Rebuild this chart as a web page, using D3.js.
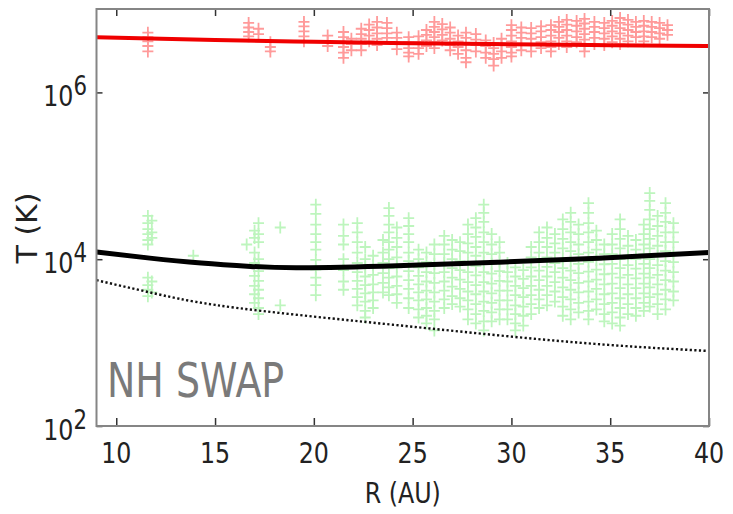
<!DOCTYPE html>
<html>
<head>
<meta charset="utf-8">
<script src="https://cdn.jsdelivr.net/npm/d3@7"></script>
<style>
  html, body { margin: 0; padding: 0; background: #fff; }
  svg { display: block; font-family: "DejaVu Sans", sans-serif; }
</style>
</head>
<body>
<div id="chart"></div>
<script>
// axis ticks
const xTicks = [10, 15, 20, 25, 30, 35, 40];
const yTicks = [1e2, 1e4, 1e6];
const yTickExp = ["2", "4", "6"];

// model curves (R in AU, T in K)
const hotR = [9, 15, 20, 25, 30, 35, 40];
const hotT = [4.6e6, 4.24e6, 4.04e6, 3.89e6, 3.78e6, 3.68e6, 3.6e6];

const warmR = [9, 11.7, 14.3, 16.8, 19.3, 24.2, 29.3, 34.4, 40];
const warmT = [1.22e4, 1.03e4, 9.0e3, 8.2e3, 7.9e3, 8.35e3, 9.2e3, 1.03e4, 1.2e4];

const adiabR = [9, 11.7, 15, 20, 25, 30, 35, 40];
const adiabT = [5.6e3, 4.0e3, 2.83e3, 2.05e3, 1.55e3, 1.18e3, 935, 793];

// NH SWAP measurements, grouped by radial distance: [R, [T values]]
const hotObs = [
  [11.6, [5.2e6, 4.6e6, 4.1e6, 3.6e6, 3.1e6]],
  [16.7, [6.8e6, 6.0e6, 5.3e6, 4.7e6]],
  [17.2, [5.8e6, 5.0e6]],
  [17.8, [4.0e6, 3.5e6, 3.1e6]],
  [19.5, [7.0e6, 6.2e6, 5.4e6, 4.7e6, 4.1e6]],
  [20.7, [4.8e6, 4.1e6, 3.6e6]],
  [21.5, [5.3e6, 4.6e6, 4.0e6, 3.5e6, 3.0e6, 2.6e6]],
  [21.9, [4.4e6, 3.8e6, 3.2e6]],
  [22.4, [5.8e6, 5.0e6, 4.4e6, 3.8e6, 3.2e6]],
  [22.8, [6.5e6, 5.6e6, 4.8e6, 4.1e6]],
  [23.2, [7.0e6, 6.0e6, 5.1e6, 4.4e6, 3.7e6]],
  [23.7, [6.8e6, 5.9e6, 5.1e6, 4.5e6]],
  [24.2, [5.2e6, 4.5e6, 3.9e6, 3.3e6]],
  [24.8, [4.6e6, 4.0e6, 3.4e6, 3.0e6, 2.7e6]],
  [25.3, [4.7e6, 4.0e6, 3.4e6, 2.9e6]],
  [25.7, [5.6e6, 4.9e6, 4.2e6, 3.6e6]],
  [26.1, [7.0e6, 6.1e6, 5.3e6, 4.6e6, 4.0e6, 3.4e6]],
  [26.5, [6.6e6, 5.7e6, 4.9e6, 4.2e6]],
  [26.9, [6.0e6, 5.2e6, 4.4e6, 3.7e6, 3.2e6]],
  [27.3, [4.8e6, 4.1e6, 3.5e6, 2.9e6]],
  [27.7, [5.2e6, 4.5e6, 3.8e6, 3.2e6, 2.6e6, 2.3e6]],
  [28.2, [5.0e6, 4.3e6, 3.7e6, 3.1e6]],
  [28.7, [4.2e6, 3.6e6, 3.0e6, 2.6e6]],
  [29.1, [3.9e6, 3.4e6, 2.9e6, 2.5e6, 2.1e6]],
  [29.5, [4.4e6, 3.7e6, 3.1e6, 2.6e6]],
  [30.0, [6.4e6, 5.6e6, 4.8e6, 4.1e6, 3.5e6, 3.0e6, 2.7e6]],
  [30.5, [6.0e6, 5.2e6, 4.5e6, 3.8e6, 3.2e6]],
  [31.0, [5.9e6, 5.1e6, 4.4e6, 3.7e6, 3.1e6]],
  [31.5, [6.2e6, 5.4e6, 4.6e6, 4.0e6, 3.4e6]],
  [32.0, [6.4e6, 5.6e6, 4.8e6, 4.1e6, 3.5e6, 3.1e6]],
  [32.4, [7.0e6, 6.1e6, 5.3e6, 4.5e6, 3.8e6]],
  [32.8, [7.4e6, 6.5e6, 5.6e6, 4.8e6, 4.1e6, 3.5e6]],
  [33.3, [7.2e6, 6.3e6, 5.4e6, 4.6e6, 4.0e6]],
  [33.7, [7.6e6, 6.7e6, 5.8e6, 5.0e6, 4.3e6, 3.6e6, 3.1e6]],
  [34.2, [7.0e6, 6.1e6, 5.3e6, 4.5e6, 3.8e6]],
  [34.7, [6.8e6, 5.9e6, 5.1e6, 4.4e6, 3.7e6]],
  [35.1, [7.2e6, 6.3e6, 5.4e6, 4.7e6, 4.0e6]],
  [35.5, [7.8e6, 6.8e6, 5.9e6, 5.1e6, 4.4e6, 3.8e6]],
  [35.9, [7.4e6, 6.5e6, 5.6e6, 4.8e6, 4.1e6]],
  [36.3, [7.0e6, 6.1e6, 5.3e6, 4.6e6]],
  [36.7, [7.2e6, 6.3e6, 5.4e6, 4.7e6, 4.1e6]],
  [37.1, [7.0e6, 6.1e6, 5.3e6, 4.6e6]],
  [37.5, [6.8e6, 5.9e6, 5.1e6, 4.4e6]],
  [37.9, [6.4e6, 5.6e6, 4.9e6]]
];

const warmObs = [
  [11.6, [3.3e4, 2.7e4, 2.3e4, 2.0e4, 1.7e4, 1.5e4, 6.0e3, 4.9e3, 4.3e3, 3.6e3]],
  [11.8, [2.9e4, 2.1e4, 1.8e4, 5.4e3, 4.0e3]],
  [13.9, [1.1e4]],
  [16.6, [1.5e4]],
  [17.0, [2.2e4, 1.8e4, 1.2e4, 9.0e3, 6.3e3, 4.8e3, 3.8e3, 3.0e3]],
  [17.2, [2.7e4, 2.0e4, 1.6e4, 1.0e4, 7.2e3, 5.5e3, 4.3e3, 3.4e3, 2.6e3, 2.2e3]],
  [18.3, [2.4e4, 2.8e3]],
  [20.1, [4.5e4, 3.5e4, 2.6e4, 2.0e4, 1.6e4, 1.3e4, 9.8e3, 7.5e3, 6.0e3, 4.9e3, 3.7e3]],
  [21.5, [2.6e4, 1.9e4, 1.5e4, 1.0e4, 7.4e3, 5.4e3, 4.3e3]],
  [22.2, [2.7e4, 2.1e4, 1.6e4, 1.2e4, 9.0e3, 7.0e3, 5.5e3, 4.4e3, 3.5e3, 2.8e3]],
  [22.6, [1.4e4, 1.0e4, 8.0e3, 6.2e3, 4.9e3, 3.9e3, 3.1e3, 2.4e3, 2.0e3]],
  [23.0, [1.1e4, 8.5e3, 6.5e3, 5.0e3, 4.0e3, 3.2e3, 2.6e3]],
  [23.5, [1.7e4, 1.2e4, 9.0e3, 6.8e3, 5.2e3, 4.0e3]],
  [23.8, [4.1e4, 3.3e4, 2.6e4, 2.1e4, 1.6e4, 1.3e4, 1.0e4, 7.8e3, 6.0e3, 4.6e3, 3.7e3]],
  [24.2, [2.4e4, 1.8e4, 1.4e4, 1.05e4, 8.0e3, 6.2e3, 4.8e3, 3.8e3, 3.0e3]],
  [24.8, [3.1e4, 2.5e4, 2.0e4, 1.6e4, 1.2e4, 9.5e3, 7.2e3, 5.6e3, 4.4e3, 3.4e3, 2.6e3]],
  [25.3, [1.3e4, 1.0e4, 8.0e3, 6.3e3, 5.0e3, 4.0e3, 3.2e3, 2.5e3, 2.0e3]],
  [25.7, [1.2e4, 9.2e3, 7.0e3, 5.4e3, 4.2e3, 3.3e3, 2.6e3, 2.1e3, 1.7e3]],
  [26.1, [1.5e4, 1.15e4, 8.8e3, 6.8e3, 5.2e3, 4.0e3, 3.1e3, 2.4e3, 1.9e3, 1.4e3]],
  [26.6, [1.9e4, 1.5e4, 1.15e4, 9.0e3, 7.0e3, 5.4e3, 4.2e3, 3.3e3, 2.6e3]],
  [27.0, [1.7e4, 1.3e4, 1.0e4, 7.8e3, 6.0e3, 4.7e3, 3.6e3, 2.9e3]],
  [27.4, [1.6e4, 1.25e4, 9.5e3, 7.4e3, 5.7e3, 4.4e3, 3.4e3, 2.7e3]],
  [27.8, [2.6e4, 2.0e4, 1.55e4, 1.2e4, 9.0e3, 7.0e3, 5.3e3, 4.1e3, 3.2e3, 2.5e3, 1.9e3]],
  [28.2, [3.1e4, 2.4e4, 1.85e4, 1.4e4, 1.1e4, 8.3e3, 6.4e3, 4.9e3, 3.8e3, 2.9e3, 2.2e3, 1.7e3]],
  [28.6, [4.5e4, 3.6e4, 2.8e4, 2.1e4, 1.6e4, 1.2e4, 9.2e3, 7.0e3, 5.3e3, 4.1e3, 3.1e3, 2.4e3, 1.8e3, 1.4e3]],
  [29.0, [2.0e4, 1.5e4, 1.15e4, 8.8e3, 6.7e3, 5.1e3, 3.9e3, 3.0e3, 2.3e3, 1.8e3]],
  [29.4, [1.6e4, 1.2e4, 9.4e3, 7.2e3, 5.5e3, 4.2e3, 3.2e3, 2.5e3, 1.9e3]],
  [29.8, [9.0e3, 7.0e3, 5.4e3, 4.2e3, 3.2e3, 2.5e3, 1.9e3]],
  [30.2, [8.0e3, 6.2e3, 4.8e3, 3.7e3, 2.8e3, 2.2e3, 1.7e3, 1.4e3]],
  [30.6, [7.4e3, 5.8e3, 4.5e3, 3.5e3, 2.7e3, 2.1e3, 1.6e3]],
  [31.0, [1.4e4, 1.05e4, 8.0e3, 6.2e3, 4.8e3, 3.7e3, 2.9e3, 2.2e3]],
  [31.4, [2.1e4, 1.6e4, 1.2e4, 9.5e3, 7.3e3, 5.6e3, 4.3e3, 3.3e3, 2.6e3]],
  [31.8, [2.4e4, 1.8e4, 1.4e4, 1.05e4, 8.1e3, 6.2e3, 4.8e3, 3.7e3, 2.8e3]],
  [32.2, [2.0e4, 1.55e4, 1.2e4, 9.0e3, 7.0e3, 5.3e3, 4.1e3, 3.1e3]],
  [32.6, [3.0e4, 2.3e4, 1.75e4, 1.35e4, 1.0e4, 7.8e3, 6.0e3, 4.6e3, 3.5e3, 2.7e3, 2.1e3]],
  [33.0, [3.6e4, 2.8e4, 2.1e4, 1.6e4, 1.25e4, 9.5e3, 7.3e3, 5.6e3, 4.3e3, 3.3e3, 2.5e3, 1.9e3]],
  [33.4, [2.6e4, 2.0e4, 1.5e4, 1.15e4, 8.8e3, 6.8e3, 5.2e3, 4.0e3, 3.0e3, 2.3e3]],
  [33.9, [4.7e4, 3.6e4, 2.7e4, 2.1e4, 1.6e4, 1.2e4, 9.3e3, 7.1e3, 5.4e3, 4.1e3, 3.1e3, 2.4e3, 1.9e3]],
  [34.3, [2.2e4, 1.7e4, 1.3e4, 9.8e3, 7.5e3, 5.7e3, 4.4e3, 3.3e3, 2.5e3]],
  [34.7, [1.5e4, 1.15e4, 8.7e3, 6.6e3, 5.0e3, 3.8e3, 2.9e3, 2.2e3, 1.8e3]],
  [35.1, [2.0e4, 1.5e4, 1.15e4, 8.8e3, 6.7e3, 5.1e3, 3.9e3, 3.0e3, 2.3e3, 1.7e3]],
  [35.5, [3.0e4, 2.3e4, 1.75e4, 1.35e4, 1.0e4, 7.8e3, 6.0e3, 4.5e3, 3.4e3, 2.6e3, 2.0e3, 1.6e3]],
  [35.9, [1.9e4, 1.45e4, 1.1e4, 8.5e3, 6.5e3, 5.0e3, 3.8e3, 2.9e3, 2.2e3]],
  [36.3, [1.7e4, 1.3e4, 1.0e4, 7.7e3, 5.9e3, 4.5e3, 3.4e3, 2.6e3, 2.1e3]],
  [36.7, [2.6e4, 2.0e4, 1.5e4, 1.15e4, 8.8e3, 6.7e3, 5.1e3, 3.9e3, 3.0e3, 2.4e3]],
  [37.0, [6.2e4, 5.0e4, 3.9e4, 3.0e4, 2.3e4, 1.75e4, 1.35e4, 1.0e4, 7.8e3, 6.0e3, 4.6e3, 3.5e3, 2.7e3]],
  [37.4, [3.3e4, 2.5e4, 1.9e4, 1.45e4, 1.1e4, 8.5e3, 6.5e3, 5.0e3, 3.8e3, 2.9e3, 2.2e3]],
  [37.8, [4.7e4, 3.6e4, 2.8e4, 2.1e4, 1.6e4, 1.25e4, 9.5e3, 7.3e3, 5.6e3, 4.3e3, 3.3e3, 2.5e3]],
  [38.2, [2.7e4, 2.1e4, 1.6e4, 1.2e4, 9.2e3, 7.0e3, 5.4e3, 4.1e3, 3.2e3]]
];

const W = 733, H = 514;
const margin = { top: 9, right: 24, bottom: 88, left: 96.5 };
const sx = 0.82; // the figure's text is horizontally squeezed

const svg = d3.select("#chart").append("svg")
  .attr("width", W)
  .attr("height", H);

const x = d3.scaleLinear().domain([9, 40]).range([margin.left, W - margin.right]);
const y = d3.scaleLog().domain([1e2, 1e7]).range([H - margin.bottom, margin.top]);

const plot = svg.append("g");
plot.append("clipPath").attr("id", "clip")
  .append("rect")
  .attr("x", x(9)).attr("y", y(1e7))
  .attr("width", x(40) - x(9)).attr("height", y(1e2) - y(1e7));

const flat = obs => obs.flatMap(([r, ts]) => ts.map(t => ({ r, t })));
const plus = "M-5.5,0H5.5M0,-6V6";

function drawMarkers(obs, color) {
  plot.append("g")
    .attr("clip-path", "url(#clip)")
    .selectAll("path")
    .data(flat(obs))
    .join("path")
    .attr("transform", d => `translate(${x(d.r)},${y(d.t)})`)
    .attr("d", plus)
    .attr("fill", "none")
    .attr("stroke", color)
    .attr("stroke-width", 1.8);
}

drawMarkers(warmObs, "#bdf5bd");
drawMarkers(hotObs, "#ff9a9a");

function drawCurve(rs, ts, color, width, dash) {
  const pts = rs.map((r, i) => [r, ts[i]]);
  plot.append("path")
    .datum(pts)
    .attr("clip-path", "url(#clip)")
    .attr("fill", "none")
    .attr("stroke", color)
    .attr("stroke-width", width)
    .attr("stroke-dasharray", dash)
    .attr("d", d3.line().x(d => x(d[0])).y(d => y(d[1])).curve(d3.curveNatural));
}

drawCurve(adiabR, adiabT, "#111", 2.4, "2.2,2.4");
drawCurve(warmR, warmT, "#000", 5, null);
drawCurve(hotR, hotT, "#f00000", 4, null);

// ticks (inward on all four sides)
const tickCol = "#333";
const axes = [
  { a: d3.axisBottom(x).tickValues(xTicks).tickSize(-8), t: `translate(0,${y(1e2)})` },
  { a: d3.axisTop(x).tickValues(xTicks).tickSize(-7), t: `translate(0,${y(1e7)})` },
  { a: d3.axisLeft(y).tickValues(yTicks).tickSize(-6), t: `translate(${x(9)},0)` },
  { a: d3.axisRight(y).tickValues(yTicks).tickSize(-6), t: `translate(${x(40)},0)` }
];
axes.forEach(({ a, t }) => {
  const g = svg.append("g").attr("transform", t).call(a.tickFormat(""));
  g.select(".domain").remove();
  g.selectAll(".tick line").attr("stroke", tickCol).attr("stroke-width", 1.5);
});

// frame
svg.append("rect")
  .attr("x", x(9)).attr("y", y(1e7))
  .attr("width", x(40) - x(9)).attr("height", y(1e2) - y(1e7))
  .attr("fill", "none")
  .attr("stroke", "#858585")
  .attr("stroke-width", 2);

// x tick labels
svg.append("g").selectAll("g")
  .data(xTicks)
  .join("g")
  .attr("transform", d => `translate(${x(d)},${y(1e2) + 37}) scale(${sx},1)`)
  .append("text")
  .attr("text-anchor", "middle")
  .attr("font-size", 29)
  .attr("fill", "#222")
  .text(d => d);

// y tick labels 10^n
const yl = svg.append("g").selectAll("g")
  .data(yTicks)
  .join("g")
  .attr("transform", d => `translate(87,${y(d) + 14}) scale(${sx},1)`)
  .append("text")
  .attr("text-anchor", "end")
  .attr("fill", "#222");
yl.append("tspan").attr("font-size", 29).text("10");
yl.append("tspan").attr("font-size", 26).attr("dy", -11).text((d, i) => yTickExp[i]);

// axis titles
svg.append("g")
  .attr("transform", `translate(${(x(9) + x(40)) / 2},503) scale(${sx},1)`)
  .append("text")
  .attr("text-anchor", "middle")
  .attr("font-size", 29)
  .attr("fill", "#222")
  .text("R (AU)");

svg.append("g")
  .attr("transform", `translate(37,228) scale(0.92,1) rotate(-90)`)
  .append("text")
  .attr("text-anchor", "middle")
  .attr("font-size", 30)
  .attr("fill", "#222")
  .text("T (K)");

// instrument label
svg.append("g")
  .attr("transform", `translate(107,397) scale(0.79,1)`)
  .append("text")
  .attr("font-size", 48)
  .attr("fill", "#7a7a7a")
  .text("NH SWAP");
</script>
</body>
</html>
